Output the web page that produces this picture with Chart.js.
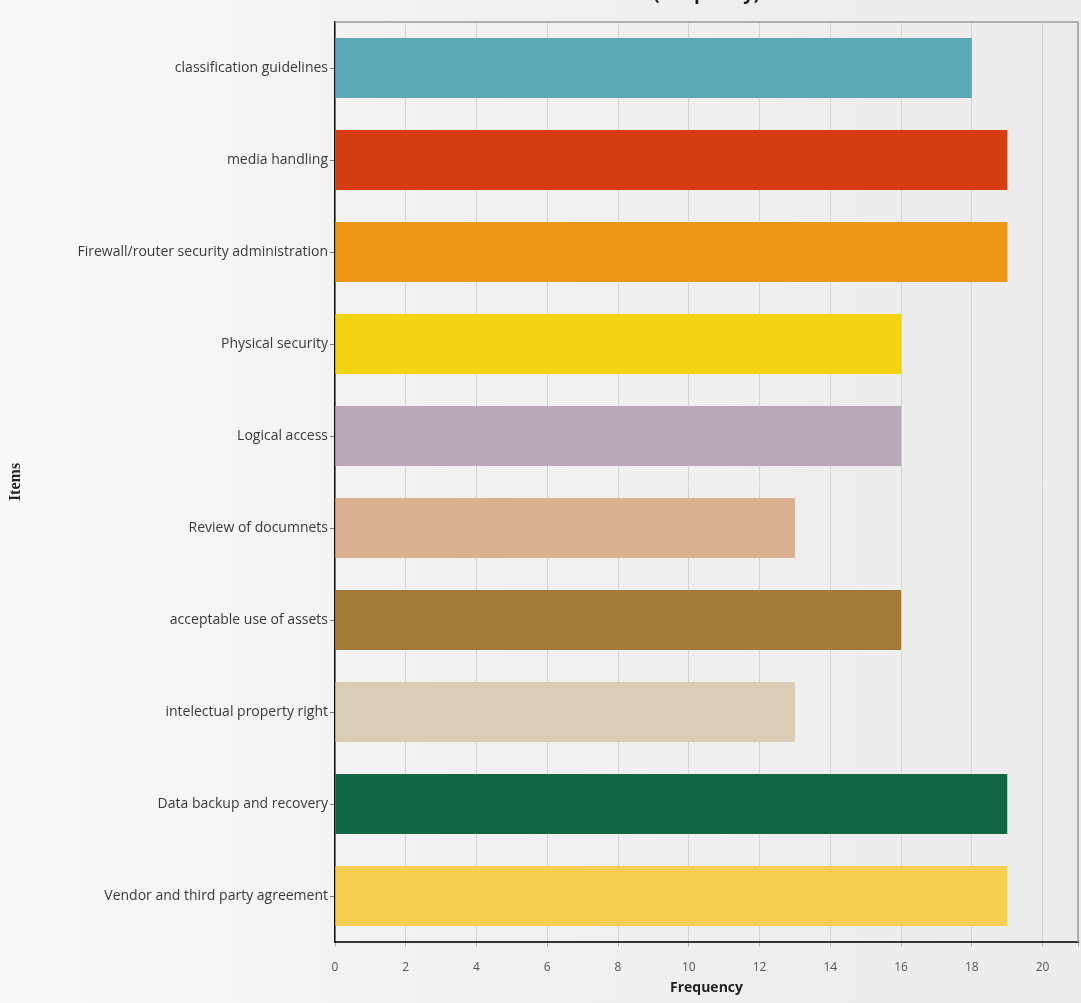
<!DOCTYPE html>
<html>
<head>
<meta charset="utf-8">
<script src="https://cdn.jsdelivr.net/npm/chart.js@4.4.0/dist/chart.umd.min.js"></script>
<style>
  html, body { margin: 0; padding: 0; overflow: hidden; }
  body { width: 1081px; height: 1003px; background: linear-gradient(to right, #fafafa 0%, #f1f1f1 40%, #ececec 100%); }
  #wrap { position: absolute; left: 0; top: -16px; width: 1081px; height: 1019px; }
</style>
</head>
<body>
<div id="wrap"><canvas id="itemsChart"></canvas></div>
<script>
// categories and counts (top to bottom)
var items = [
    'classification guidelines',
    'media handling',
    'Firewall/router security administration',
    'Physical security',
    'Logical access',
    'Review of documnets',
    'acceptable use of assets',
    'intelectual property right',
    'Data backup and recovery',
    'Vendor and third party agreement'
];
var frequency = [18, 19, 19, 16, 16, 13, 16, 13, 19, 19];
var barColors = ['#5ba9b6', '#d43c12', '#ee9516', '#f4d312', '#b9a8b7', '#d9b190', '#a27c36', '#dacdb6', '#0f6843', '#f5cf52'];
var xTicks = [0, 2, 4, 6, 8, 10, 12, 14, 16, 18, 20];

// grey frame on top and right of the plot
var framePlugin = {
    id: 'frame',
    beforeDatasetsDraw: function (chart) {
        var a = chart.chartArea, ctx = chart.ctx;
        ctx.save();
        ctx.strokeStyle = '#9a9a9a';
        ctx.lineWidth = 1.5;
        ctx.beginPath();
        ctx.moveTo(a.left, a.top);
        ctx.lineTo(a.right, a.top);
        ctx.lineTo(a.right, a.bottom);
        ctx.stroke();
        ctx.restore();
    }
};

var ctx = document.getElementById('itemsChart').getContext('2d');
var chart = new Chart(ctx, {
    type: 'bar',
    data: {
        labels: items,
        datasets: [{
            data: frequency,
            backgroundColor: barColors,
            borderWidth: 0,
            barPercentage: 0.65,
            categoryPercentage: 1
        }]
    },
    options: {
        indexAxis: 'y',
        responsive: true,
        maintainAspectRatio: false,
        animation: false,
        layout: { padding: { left: 0, right: 3, top: 0, bottom: 0 } },
        plugins: {
            legend: { display: false },
            tooltip: { enabled: false },
            title: {
                display: true,
                text: '(Frequency)',
                fullSize: false,
                color: '#1a1a1a',
                font: { family: 'Open Sans', size: 18, weight: 'bold' },
                padding: { top: 0, bottom: 16.4 }
            }
        },
        scales: {
            x: {
                min: 0,
                max: 21,
                afterBuildTicks: function (scale) {
                    scale.ticks = xTicks.map(function (v) { return { value: v }; }).concat([{ value: 21 }]);
                },
                afterFit: function (scale) {
                    scale.height = 61;
                    scale.paddingRight = 0;
                    scale.paddingLeft = 0;
                },
                ticks: {
                    color: '#555',
                    padding: 13,
                    maxRotation: 0,
                    font: { family: 'Open Sans', size: 12 },
                    callback: function (v) { return v === 21 ? '' : v; }
                },
                grid: { color: '#d4d4d4', lineWidth: 1, tickLength: 5, tickColor: '#bbb' },
                border: { display: true, color: '#333', width: 2 },
                title: {
                    display: true,
                    text: 'Frequency',
                    color: '#222',
                    font: { family: 'Open Sans', size: 14, weight: 'bold' },
                    padding: { top: 0, bottom: 7 }
                }
            },
            y: {
                afterFit: function (scale) {
                    scale.width = 335;
                    scale.paddingTop = 0;
                    scale.paddingBottom = 0;
                },
                ticks: {
                    color: '#3a3a3a',
                    padding: 2,
                    font: { family: 'Open Sans', size: 14 }
                },
                grid: { display: true, offset: false, drawOnChartArea: false, tickLength: 5, tickColor: '#777' },
                border: { display: true, color: '#111', width: 1.5 },
                title: {
                    display: true,
                    text: 'Items',
                    color: '#222',
                    font: { family: 'Liberation Serif', size: 16, weight: 'bold' },
                    padding: { top: 6, bottom: 0 }
                }
            }
        }
    },
    plugins: [framePlugin]
});
</script>
</body>
</html>
